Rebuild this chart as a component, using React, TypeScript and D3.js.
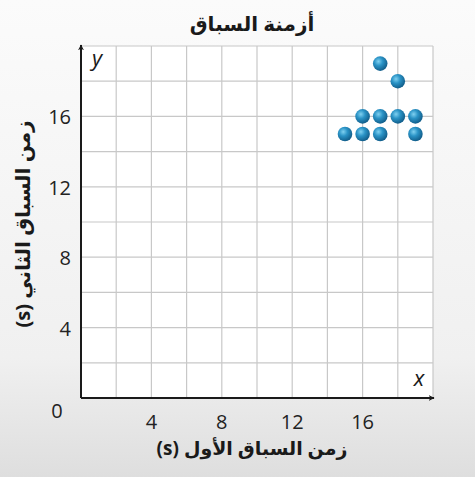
import React from "react";
import * as d3 from "d3";

const title = "أزمنة السباق";
const xLabel = "زمن السباق الأول (s)";
const yLabel = "زمن السباق الثاني (s)";
const firstRace = [15, 16, 17, 19, 16, 17, 18, 19, 18, 17];
const secondRace = [15, 15, 15, 15, 16, 16, 16, 16, 18, 19];
const tickValues = [4, 8, 12, 16];
const gridValues = d3.range(2, 21, 2);

const W = 475;
const H = 477;

export default function App() {
  const x = d3.scaleLinear().domain([0, 20]).range([81, 433]);
  const y = d3.scaleLinear().domain([0, 20]).range([398, 46]);
  const font = "'Open Sans', 'DejaVu Sans', sans-serif";
  return (
    <svg width={W} height={H} style={{ position: "absolute", left: 0, top: 0 }}>
      <defs>
        <linearGradient id="bg" x1="0" y1="0" x2="0" y2="1">
          <stop offset="0" stopColor="#fbfbfb" />
          <stop offset="0.75" stopColor="#f0f0f0" />
          <stop offset="1" stopColor="#dedede" />
        </linearGradient>
        <radialGradient id="ball" cx="0.38" cy="0.35" r="0.65">
          <stop offset="0" stopColor="#7fd0f0" />
          <stop offset="0.45" stopColor="#2a93c6" />
          <stop offset="1" stopColor="#125f8c" />
        </radialGradient>
        <marker id="arrow" viewBox="0 0 10 10" refX="9" refY="5" markerWidth="6" markerHeight="6" orient="auto" markerUnits="userSpaceOnUse">
          <path d="M0,0 L10,5 L0,10 L3,5 Z" fill="#1a1a1a" />
        </marker>
      </defs>
      <rect x={0} y={0} width={W} height={H} fill="url(#bg)" />
      <rect x={x(0)} y={y(20)} width={x(20) - x(0)} height={y(0) - y(20)} fill="#ffffff" />
      {gridValues.map((v) => (
        <g key={"g" + v}>
          <line x1={x(v)} x2={x(v)} y1={y(0)} y2={y(20)} stroke="#c8c8c8" strokeWidth={1.2} />
          <line x1={x(0)} x2={x(20)} y1={y(v)} y2={y(v)} stroke="#c8c8c8" strokeWidth={1.2} />
        </g>
      ))}
      <line x1={x(0)} x2={x(20) + 1} y1={y(0)} y2={y(0)} stroke="#1a1a1a" strokeWidth={2} markerEnd="url(#arrow)" />
      <line x1={x(0)} x2={x(0)} y1={y(0)} y2={y(20) - 1} stroke="#1a1a1a" strokeWidth={2} markerEnd="url(#arrow)" />
      <text x={x(0) + 16} y={y(20) + 20} fontFamily={font} fontStyle="italic" fontSize={22} fill="#1a1a1a" textAnchor="middle">y</text>
      <text x={x(19.2)} y={y(0) - 12} fontFamily={font} fontStyle="italic" fontSize={22} fill="#1a1a1a" textAnchor="middle">x</text>
      {tickValues.map((v) => (
        <text key={"xt" + v} x={x(v)} y={429} fontFamily={font} fontSize={20} fill="#222" textAnchor="middle">{v}</text>
      ))}
      {tickValues.map((v) => (
        <text key={"yt" + v} x={71} y={y(v) + 8} fontFamily={font} fontSize={20} fill="#222" textAnchor="end">{v}</text>
      ))}
      <text x={57} y={418} fontFamily={font} fontSize={20} fill="#222" textAnchor="middle">0</text>
      {firstRace.map((v, i) => (
        <circle key={"p" + i} cx={x(v)} cy={y(secondRace[i])} r={7.3} fill="url(#ball)" />
      ))}
      <text x={252} y={31} fontFamily={font} fontWeight="bold" fontSize={20} fill="#1a1a1a" textAnchor="middle" direction="rtl">{title}</text>
      <text x={252} y={455} fontFamily={font} fontWeight="bold" fontSize={19} fill="#1a1a1a" textAnchor="middle" direction="rtl">{xLabel}</text>
      <text transform={`translate(30,224) rotate(-90)`} fontFamily={font} fontWeight="bold" fontSize={20} fill="#1a1a1a" textAnchor="middle" direction="rtl">{yLabel}</text>
    </svg>
  );
}
